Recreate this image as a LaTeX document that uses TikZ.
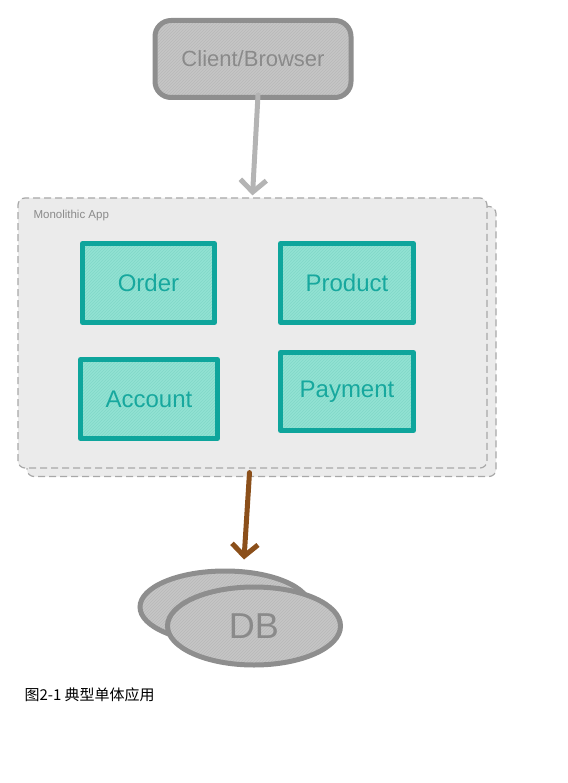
\documentclass[tikz,border=0pt]{standalone}
\usepackage{fontspec}
\setmainfont{Liberation Sans}
\newfontfamily\cjk{Noto Sans CJK SC}
\usetikzlibrary{arrows.meta,calc,patterns,shapes.geometric}
\definecolor{cgrayfill}{HTML}{C6C6C6}
\definecolor{cgrayhatch}{HTML}{B8B8B8}
\definecolor{cgrayline}{HTML}{8E8E8E}
\definecolor{cgraytext}{HTML}{8A8A8A}
\definecolor{cappfill}{HTML}{EBEBEB}
\definecolor{cappline}{HTML}{A8A8A8}
\definecolor{ctealfill}{HTML}{92E2D3}
\definecolor{ctealhatch}{HTML}{80D8C8}
\definecolor{ctealline}{HTML}{0EA59C}
\definecolor{ctealtext}{HTML}{17A89E}
\definecolor{carrowgray}{HTML}{B4B4B4}
\definecolor{cbrown}{HTML}{8B4F1A}
\tikzset{
  clientbox/.style={draw=cgrayline, preaction={fill=cgrayfill}, pattern=north east lines,
    pattern color=cgrayhatch, line width=5pt, rounded corners=16pt,
    minimum width=196pt, minimum height=77pt, text=cgraytext,
    font=\fontsize{22}{26}\selectfont},
  appbox/.style={draw=cappline, fill=cappfill, line width=1.2pt, dash pattern=on 7pt off 4pt,
    rounded corners=7pt, minimum width=469pt, minimum height=270pt},
  svcbox/.style={draw=ctealline, preaction={fill=ctealfill}, pattern=north east lines,
    pattern color=ctealhatch, line width=5pt, line join=round,
    text=ctealtext, font=\fontsize{24}{28}\selectfont},
  dbell/.style={ellipse, draw=cgrayline, preaction={fill=cgrayfill}, pattern=north east lines,
    pattern color=cgrayhatch, line width=5pt},
  flowarrow/.style={line width=5pt, line cap=round, -{Straight Barb[length=12pt,width=26pt]}},
}
\begin{document}
\begin{tikzpicture}[x=1pt,y=-1pt]
\useasboundingbox (0,0) rectangle (567,783);
% client
\node[clientbox] (client) at (253,59) {Client/Browser};
% monolithic app container (back and front)
\node[appbox] (appback) at (261.5,341.5) {};
\node[appbox] (app) at (252.5,333) {};
\node[anchor=west, text=cgraytext, font=\fontsize{11.5}{14}\selectfont] (applabel) at (30,216) {Monolithic App};
% services
\node[svcbox, minimum width=132pt, minimum height=79pt] (order) at (148.5,283) {Order};
\node[svcbox, minimum width=133pt, minimum height=79pt] (product) at (347,283) {Product};
\node[svcbox, minimum width=137pt, minimum height=79pt] (account) at (149,399) {Account};
\node[svcbox, minimum width=133pt, minimum height=78pt] (payment) at (347,391.5) {Payment};
% DB
\node[dbell, minimum width=170pt, minimum height=72pt] (dbback) at (225,607) {};
\node[dbell, minimum width=173pt, minimum height=78pt, text=cgraytext,
  font=\fontsize{36}{40}\selectfont] (db) at (254,626) {DB};
% arrows
\draw[flowarrow, draw=carrowgray] ($(client.south)+(5,-5)$) -- ($(app.north)+(0,-2)$);
\draw[flowarrow, draw=cbrown] ($(app.south)+(-3,4)$) -- ($(dbback.north)+(19,-9)$);
% caption
\node[anchor=west, font=\cjk\fontsize{15}{18}\selectfont] (caption) at (21,695) {图2-1 典型单体应用};
\end{tikzpicture}
\end{document}
